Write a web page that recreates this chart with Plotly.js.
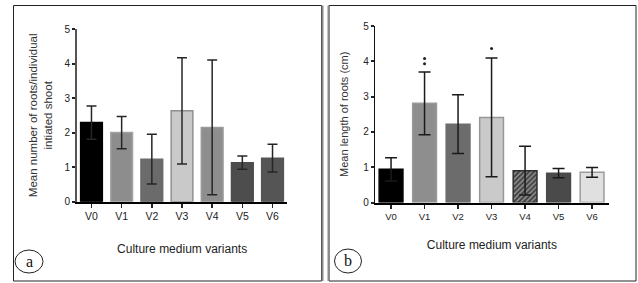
<!DOCTYPE html>
<html>
<head>
<meta charset="utf-8">
<script src="https://cdn.plot.ly/plotly-3.0.1.min.js"></script>
<style>html,body{margin:0;padding:0;background:#fff;}#chart{width:638px;height:283px;}</style>
</head>
<body>
<div id="chart"></div>
<script>
// ---- data ----
const variants = ['V0', 'V1', 'V2', 'V3', 'V4', 'V5', 'V6'];
const tickLabelsA = ['V0', 'V1', 'V2', 'V3', 'V4', 'V5', 'V6'];
const rootNumberMean = [2.29, 2.00, 1.23, 2.63, 2.15, 1.13, 1.26];
const rootNumberErr  = [0.48, 0.47, 0.72, 1.54, 1.95, 0.19, 0.40];
const rootLengthMean = [0.94, 2.81, 2.22, 2.41, 0.90, 0.83, 0.855];
const rootLengthErr  = [0.33, 0.89, 0.83, 1.68, 0.69, 0.13, 0.14];
const sigX = ['V1', 'V1', 'V3'];
const sigY = [4.08, 3.93, 4.36];
const yTicks = [0, 1, 2, 3, 4, 5];

// ---- styles ----
const W = 638, H = 283;
const px = x => x / W;
const py = y => 1 - y / H;
const colorsA = ['#000000', '#8d8d8d', '#6b6b6b', '#c9c9c9', '#8e8e8e', '#4d4d4d', '#555555'];
const lineA   = ['#000000', '#a3a3a3', '#6b6b6b', '#909090', '#9a9a9a', '#4d4d4d', '#555555'];
const colorsB = ['#000000', '#8e8e8e', '#6c6c6c', '#cacaca', '#3e3e3e', '#4a4a4a', '#e0e0e0'];
const lineB   = ['#000000', '#9a9a9a', '#6c6c6c', '#979797', '#2e2e2e', '#4a4a4a', '#9c9c9c'];
const patternB = ['', '', '', '', '/', '', ''];
const FONT = 'Liberation Sans, Arial, sans-serif';

const traces = [
  {
    type: 'bar', x: variants, y: rootNumberMean, xaxis: 'x', yaxis: 'y',
    width: 0.72,
    marker: {color: colorsA, line: {color: lineA, width: 1.5}},
    error_y: {type: 'data', array: rootNumberErr, visible: true, color: '#262626', thickness: 1.5, width: 5},
    hoverinfo: 'x+y', showlegend: false
  },
  {
    type: 'bar', x: variants, y: rootLengthMean, xaxis: 'x2', yaxis: 'y2',
    width: 0.71,
    marker: {color: colorsB, line: {color: lineB, width: 1.5},
             pattern: {shape: patternB, fillmode: 'overlay', fgcolor: '#1a1a1a', size: 3.5, solidity: 0.4}},
    error_y: {type: 'data', array: rootLengthErr, visible: true, color: '#1a1a1a', thickness: 1.5, width: 6},
    hoverinfo: 'x+y', showlegend: false
  },
  {
    type: 'scatter', mode: 'markers', x: sigX, y: sigY, xaxis: 'x2', yaxis: 'y2',
    marker: {color: '#222', size: 3, symbol: 'circle'},
    hoverinfo: 'skip', showlegend: false
  }
];

const xCommon = {
  type: 'category', showline: true, linecolor: '#000', linewidth: 2,
  ticks: 'outside', ticklen: 4, tickwidth: 1.5, tickcolor: '#222',
  tickfont: {family: FONT, size: 10.5, color: '#222'},
  showgrid: false, zeroline: false, fixedrange: true, automargin: false
};
const yCommon = {
  range: [0, 5], tickvals: yTicks, showline: true, linewidth: 2,
  ticks: 'outside', ticklen: 3, tickwidth: 2, tickcolor: '#222',
  tickfont: {family: FONT, size: 10, color: '#222'},
  showgrid: false, zeroline: false, fixedrange: true, automargin: false
};

const layout = {
  width: W, height: H,
  margin: {l: 0, r: 0, t: 0, b: 0},
  paper_bgcolor: '#fff', plot_bgcolor: 'rgba(0,0,0,0)',
  bargap: 0,
  xaxis: Object.assign({}, xCommon, {
    domain: [px(77), px(287.3)], range: [-0.48, 6.49], anchor: 'y',
    tickvals: variants, ticktext: tickLabelsA,
    title: {text: 'Culture medium variants', font: {family: FONT, size: 12, color: '#222'}, standoff: 23}
  }),
  yaxis: Object.assign({}, yCommon, {
    domain: [py(201.7), py(29)], anchor: 'x', linecolor: '#555',
    title: {text: 'Mean number of roots/individual<br>intiated shoot', font: {family: FONT, size: 11.5, color: '#333'}, standoff: 9}
  }),
  xaxis2: Object.assign({}, xCommon, {
    domain: [px(375.3), px(608.5)], range: [-0.47, 6.49], anchor: 'y2',
    tickvals: variants, ticktext: variants,
    tickfont: {family: FONT, size: 9.5, color: '#222'},
    title: {text: 'Culture medium variants', font: {family: FONT, size: 12, color: '#222'}, standoff: 20}
  }),
  yaxis2: Object.assign({}, yCommon, {
    domain: [py(202.5), py(26)], anchor: 'x2', linecolor: '#111', linewidth: 1.5,
    title: {text: 'Mean length of roots (cm)', font: {family: FONT, size: 11, color: '#333'}, standoff: 12}
  }),
  shapes: [
    {type: 'rect', xref: 'paper', yref: 'paper', x0: px(13.5), x1: px(321.5), y0: py(281), y1: py(5.5), line: {color: '#222', width: 1}},
    {type: 'line', xref: 'paper', yref: 'paper', x0: px(322.5), x1: px(322.5), y0: py(281), y1: py(5.5), line: {color: '#8a8a8a', width: 2}},
    {type: 'rect', xref: 'paper', yref: 'paper', x0: px(329), x1: px(636), y0: py(281), y1: py(5.5), line: {color: '#222', width: 1}},
    {type: 'line', xref: 'paper', yref: 'paper', x0: px(328.5), x1: px(328.5), y0: py(281), y1: py(5.5), line: {color: '#8a8a8a', width: 2}},
    {type: 'circle', xref: 'paper', yref: 'paper', x0: px(15), x1: px(43), y0: py(273), y1: py(250), line: {color: '#222', width: 1}},
    {type: 'circle', xref: 'paper', yref: 'paper', x0: px(334.5), x1: px(361.5), y0: py(273), y1: py(249), line: {color: '#222', width: 1}}
  ],
  annotations: [
    {xref: 'paper', yref: 'paper', x: px(29), y: py(261), text: 'a', showarrow: false,
     font: {family: 'Liberation Serif, DejaVu Serif, serif', size: 16, color: '#111'}, xanchor: 'center', yanchor: 'middle'},
    {xref: 'paper', yref: 'paper', x: px(348), y: py(260.5), text: 'b', showarrow: false,
     font: {family: 'Liberation Serif, DejaVu Serif, serif', size: 16, color: '#111'}, xanchor: 'center', yanchor: 'middle'}
  ]
};

Plotly.newPlot('chart', traces, layout, {displayModeBar: false, staticPlot: true});
</script>
</body>
</html>
